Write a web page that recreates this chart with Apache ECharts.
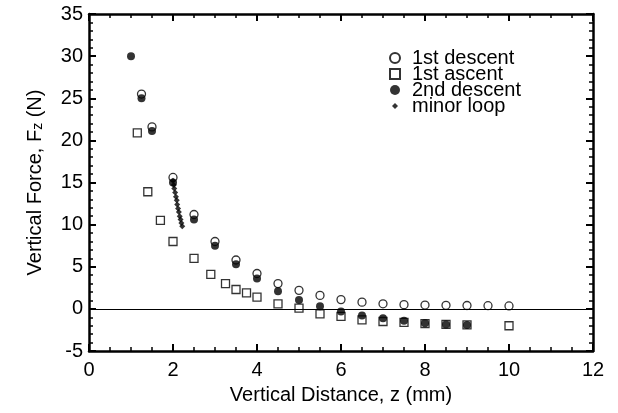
<!DOCTYPE html>
<html>
<head>
<meta charset="utf-8">
<title>Vertical Force vs Vertical Distance</title>
<script src="https://cdn.jsdelivr.net/npm/echarts@6/dist/echarts.min.js"></script>
<style>
  html, body {
    margin: 0;
    padding: 0;
    background: #fff;
  }
  #chart {
    width: 618px;
    height: 413px;
  }
</style>
</head>
<body>
<div id="chart"></div>
<script>
// values
const descent1X = [1.25, 1.5, 2, 2.5, 3, 3.5, 4, 4.5, 5, 5.5, 6, 6.5, 7, 7.5, 8, 8.5, 9, 9.5, 10]
const descent1Y = [25.5, 21.6, 15.6, 11.2, 8.0, 5.8, 4.2, 3.0, 2.2, 1.6, 1.1, 0.8, 0.6, 0.5, 0.45, 0.42, 0.4, 0.38, 0.35]

const ascent1X = [1.15, 1.4, 1.7, 2, 2.5, 2.9, 3.25, 3.5, 3.75, 4, 4.5, 5, 5.5, 6, 6.5, 7, 7.5, 8, 8.5, 9, 10]
const ascent1Y = [20.9, 13.9, 10.5, 8.0, 6.0, 4.1, 3.0, 2.3, 1.9, 1.4, 0.6, 0.1, -0.6, -0.9, -1.3, -1.5, -1.6, -1.75, -1.85, -1.9, -2.0]

const descent2X = [1, 1.25, 1.5, 2, 2.5, 3, 3.5, 4, 4.5, 5, 5.5, 6, 6.5, 7, 7.5, 8, 8.5, 9]
const descent2Y = [30.0, 25.0, 21.1, 15.0, 10.6, 7.5, 5.3, 3.6, 2.1, 1.05, 0.3, -0.3, -0.8, -1.1, -1.4, -1.7, -1.85, -1.9]

const minorX = [2.0, 2.02, 2.03, 2.05, 2.07, 2.09, 2.1, 2.12, 2.14, 2.16, 2.18, 2.2, 2.22]
const minorY = [15.2, 14.7, 14.3, 13.8, 13.3, 12.9, 12.4, 11.9, 11.5, 11.0, 10.6, 10.2, 9.8]

const seriesNames = ['1st descent', '1st ascent', '2nd descent', 'minor loop']

const fontFamily = '"Liberation Sans", Arial, Helvetica, sans-serif'

const pairs = (xs, ys) => xs.map((x, i) => [x, ys[i]])

const axisLine = { onZero: false, lineStyle: { color: '#000', width: 2.5 } }
const axisTick = { inside: true, length: 7, lineStyle: { color: '#000', width: 2 } }
const minorLine = { color: '#000', width: 1.5 }

const chart = echarts.init(document.getElementById('chart'))

const option = {
  animation: false,
  backgroundColor: '#fff',
  grid: {
    left: 89,
    right: 25,
    top: 14,
    bottom: 62
  },
  legend: {
    orient: 'vertical',
    left: 384,
    top: 43,
    itemWidth: 24,
    itemHeight: 10,
    itemGap: -4,
    selectedMode: false,
    textStyle: {
      color: '#000',
      fontSize: 20,
      fontFamily
    },
    data: [
      { name: seriesNames[0] },
      { name: seriesNames[1], icon: 'path://M1 1H9V9H1Z' },
      { name: seriesNames[2] },
      { name: seriesNames[3], icon: 'path://M0 0M10 10M5 2L8 5L5 8L2 5Z' }
    ]
  },
  xAxis: [
    {
      type: 'value',
      min: 0,
      max: 12,
      interval: 2,
      name: 'Vertical Distance, z (mm)',
      nameLocation: 'middle',
      nameGap: 34,
      nameTextStyle: { color: '#000', fontSize: 20, fontFamily },
      axisLine,
      axisTick,
      minorTick: { show: true, splitNumber: 4, length: 4, lineStyle: minorLine },
      axisLabel: { color: '#000', fontSize: 20, margin: 9, fontFamily },
      splitLine: { show: false }
    },
    {
      type: 'value',
      position: 'top',
      min: 0,
      max: 12,
      interval: 2,
      axisLine,
      axisTick,
      minorTick: { show: true, splitNumber: 4, length: 4, lineStyle: minorLine },
      axisLabel: { show: false },
      splitLine: { show: false }
    }
  ],
  yAxis: [
    {
      type: 'value',
      min: -5,
      max: 35,
      interval: 5,
      name: 'Vertical Force, F{sub|z} (N)',
      nameLocation: 'middle',
      nameGap: 44,
      nameTextStyle: {
        color: '#000',
        fontSize: 20,
        fontFamily,
        rich: {
          sub: { fontSize: 14, lineHeight: 8, verticalAlign: 'bottom', color: '#000', fontFamily }
        }
      },
      axisLine,
      axisTick,
      minorTick: { show: true, splitNumber: 5, length: 4, lineStyle: minorLine },
      axisLabel: { color: '#000', fontSize: 20, margin: 6, fontFamily },
      splitLine: { show: false }
    },
    {
      type: 'value',
      position: 'right',
      min: -5,
      max: 35,
      interval: 5,
      axisLine,
      axisTick,
      minorTick: { show: true, splitNumber: 5, length: 4, lineStyle: minorLine },
      axisLabel: { show: false },
      splitLine: { show: false }
    }
  ],
  series: [
    {
      name: seriesNames[1],
      type: 'scatter',
      symbol: 'rect',
      symbolSize: 8,
      itemStyle: { color: '#fff', borderColor: '#000', borderWidth: 1.3 },
      data: pairs(ascent1X, ascent1Y),
      markLine: {
        silent: true,
        symbol: ['none', 'none'],
        label: { show: false },
        lineStyle: { color: '#000', width: 1, type: 'solid' },
        data: [{ yAxis: 0 }]
      }
    },
    {
      name: seriesNames[0],
      type: 'scatter',
      symbol: 'circle',
      symbolSize: 8,
      itemStyle: { color: '#fff', borderColor: '#000', borderWidth: 1.3 },
      data: pairs(descent1X, descent1Y)
    },
    {
      name: seriesNames[2],
      type: 'scatter',
      symbol: 'circle',
      symbolSize: 8,
      itemStyle: { color: '#000' },
      data: pairs(descent2X, descent2Y)
    },
    {
      name: seriesNames[3],
      type: 'scatter',
      symbol: 'diamond',
      symbolSize: 6,
      itemStyle: { color: '#000' },
      data: pairs(minorX, minorY)
    }
  ]
}

chart.setOption(option)
</script>
</body>
</html>
